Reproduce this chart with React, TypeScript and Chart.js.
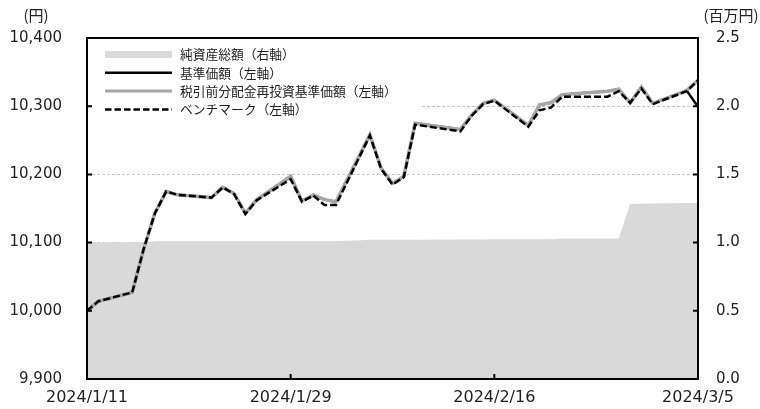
import React, { useEffect, useRef } from 'react';
import { Chart, registerables } from 'chart.js';

Chart.register(...registerables);

// ---- data ----
const dates = [
  '2024/1/11', '2024/1/12', '2024/1/15', '2024/1/16', '2024/1/17', '2024/1/18', '2024/1/19',
  '2024/1/22', '2024/1/23', '2024/1/24', '2024/1/25', '2024/1/26', '2024/1/29', '2024/1/30',
  '2024/1/31', '2024/2/1', '2024/2/2', '2024/2/5', '2024/2/6', '2024/2/7', '2024/2/8',
  '2024/2/9', '2024/2/13', '2024/2/14', '2024/2/15', '2024/2/16', '2024/2/19', '2024/2/20',
  '2024/2/21', '2024/2/22', '2024/2/26', '2024/2/27', '2024/2/28', '2024/2/29', '2024/3/1',
  '2024/3/4', '2024/3/5',
];

// 基準価額（左軸）
const navValues = [
  10000, 10014, 10027, 10090, 10143, 10175, 10170,
  10166, 10181, 10172, 10143, 10163, 10197, 10161,
  10170, 10163, 10160, 10258, 10209, 10187, 10197,
  10275, 10266, 10287, 10304, 10309, 10272, 10302,
  10305, 10317, 10322, 10325, 10305, 10328, 10304,
  10323, 10299,
];

// 税引前分配金再投資基準価額（左軸）
const navReinvested = [
  10000, 10014, 10027, 10090, 10143, 10175, 10170,
  10166, 10181, 10172, 10143, 10163, 10197, 10161,
  10170, 10163, 10160, 10258, 10209, 10187, 10197,
  10275, 10266, 10287, 10304, 10309, 10272, 10302,
  10305, 10317, 10322, 10325, 10305, 10328, 10304,
  10323, 10338,
];

// ベンチマーク（左軸）
const benchmark = [
  10000, 10014, 10027, 10090, 10143, 10175, 10170,
  10166, 10181, 10171, 10142, 10162, 10193, 10160,
  10169, 10155, 10155, 10257, 10208, 10185, 10196,
  10273, 10263, 10286, 10303, 10308, 10270, 10294,
  10298, 10314, 10314, 10322, 10305, 10326, 10303,
  10322, 10338,
];

// 純資産総額（右軸, 百万円）
const netAssets = [
  1.0, 1.0, 1.005, 1.005, 1.01, 1.01, 1.01,
  1.01, 1.01, 1.01, 1.01, 1.01, 1.01, 1.01,
  1.01, 1.01, 1.01, 1.02, 1.02, 1.02, 1.02,
  1.02, 1.022, 1.022, 1.022, 1.025, 1.025, 1.025,
  1.025, 1.03, 1.03, 1.03, 1.283, 1.285, 1.287,
  1.29, 1.29,
];

const xTickLabels = ['2024/1/11', '2024/1/29', '2024/2/16', '2024/3/5'];
const leftTitle = '(円)';
const rightTitle = '(百万円)';
const legendLabels = [
  '純資産総額（右軸）',
  '基準価額（左軸）',
  '税引前分配金再投資基準価額（左軸）',
  'ベンチマーク（左軸）',
];

// ---- helpers ----
const dayOf = (s: string) => {
  const [y, m, d] = s.split('/').map(Number);
  return Math.round((Date.UTC(y, m - 1, d) - Date.UTC(2024, 0, 11)) / 86400000);
};
const toPoints = (arr: number[]) => dates.map((d, i) => ({ x: dayOf(d), y: arr[i] }));

const FAMILY = '"DejaVu Sans", Verdana, sans-serif';
const AXIS_FONT = { family: FAMILY, size: 15 };
const X_FONT = { family: FAMILY, size: 16 };
const TEXT_COLOR = '#222222';
const JP_FONT = '"Noto Sans CJK JP", "Noto Sans", sans-serif';

const COLORS = {
  area: '#d9d9d9',
  nav: '#000000',
  reinvest: '#a6a6a6',
  bench: '#000000',
};

const decorPlugin = {
  id: 'decor',
  beforeDatasetsDraw(chart: any) {
    const { ctx, chartArea } = chart;
    const { left, top } = chartArea;
    ctx.save();
    // legend background
    ctx.fillStyle = '#ffffff';
    ctx.fillRect(left + 1, top + 1, 420 - left, 84);
    const x0 = 105;
    const x1 = 172;
    const rows = [54.5, 72.8, 91.1, 109.4];
    ctx.fillStyle = COLORS.area;
    ctx.fillRect(x0, rows[0] - 3.5, x1 - x0, 7);
    ctx.lineCap = 'butt';
    ctx.strokeStyle = COLORS.nav;
    ctx.lineWidth = 2.5;
    ctx.beginPath();
    ctx.moveTo(x0, rows[1]);
    ctx.lineTo(x1, rows[1]);
    ctx.stroke();
    ctx.strokeStyle = COLORS.reinvest;
    ctx.lineWidth = 3;
    ctx.beginPath();
    ctx.moveTo(x0, rows[2]);
    ctx.lineTo(x1, rows[2]);
    ctx.stroke();
    ctx.strokeStyle = COLORS.bench;
    ctx.lineWidth = 2.5;
    ctx.setLineDash([6.5, 3]);
    ctx.beginPath();
    ctx.moveTo(x0, rows[3]);
    ctx.lineTo(x1, rows[3]);
    ctx.stroke();
    ctx.setLineDash([]);
    ctx.fillStyle = TEXT_COLOR;
    ctx.font = `12.75px ${JP_FONT}`;
    ctx.textAlign = 'left';
    ctx.textBaseline = 'middle';
    legendLabels.forEach((t, i) => ctx.fillText(t, 180, rows[i]));
    ctx.restore();
  },
  afterDatasetsDraw(chart: any) {
    const { ctx, chartArea, scales } = chart;
    const { left, right, top, bottom } = chartArea;
    ctx.save();
    ctx.strokeStyle = '#000000';
    ctx.lineWidth = 2;
    ctx.strokeRect(left, top, right - left, bottom - top);
    const tl = 5;
    ctx.beginPath();
    scales.y.ticks.forEach((t: any) => {
      if (t.value <= scales.y.min || t.value >= scales.y.max) return;
      const py = scales.y.getPixelForValue(t.value);
      ctx.moveTo(left, py);
      ctx.lineTo(left + tl, py);
    });
    scales.y2.ticks.forEach((t: any) => {
      if (t.value <= scales.y2.min || t.value >= scales.y2.max) return;
      const py = scales.y2.getPixelForValue(t.value);
      ctx.moveTo(right - tl, py);
      ctx.lineTo(right, py);
    });
    scales.x.ticks.forEach((t: any) => {
      if (t.value <= scales.x.min || t.value >= scales.x.max) return;
      const px = scales.x.getPixelForValue(t.value);
      ctx.moveTo(px, bottom - tl);
      ctx.lineTo(px, bottom);
    });
    ctx.stroke();
    ctx.fillStyle = TEXT_COLOR;
    ctx.font = `15px ${JP_FONT}`;
    ctx.textBaseline = 'middle';
    ctx.textAlign = 'center';
    ctx.fillText(leftTitle, 36, 15);
    ctx.fillText(rightTitle, 731, 15);
    ctx.restore();
  },
};

const fixVertical = (width: number) => (s: any) => {
  s.width = width;
  s.paddingTop = 0;
  s.paddingBottom = 0;
};

export default function App() {
  const ref = useRef<HTMLCanvasElement>(null);

  useEffect(() => {
    const canvas = ref.current;
    if (!canvas) return;
    const chart = new Chart(canvas, {
      type: 'line',
      data: {
        datasets: [
          {
            label: legendLabels[3],
            data: toPoints(benchmark),
            yAxisID: 'y',
            borderColor: COLORS.bench,
            borderWidth: 2.5,
            borderDash: [7, 3],
            pointRadius: 0,
            fill: false,
            tension: 0,
            order: 0,
          },
          {
            label: legendLabels[2],
            data: toPoints(navReinvested),
            yAxisID: 'y',
            borderColor: COLORS.reinvest,
            borderWidth: 3.5,
            pointRadius: 0,
            fill: false,
            tension: 0,
            order: 1,
          },
          {
            label: legendLabels[1],
            data: toPoints(navValues),
            yAxisID: 'y',
            borderColor: COLORS.nav,
            borderWidth: 2.5,
            pointRadius: 0,
            fill: false,
            tension: 0,
            order: 2,
          },
          {
            label: legendLabels[0],
            data: toPoints(netAssets),
            yAxisID: 'y2',
            borderWidth: 0,
            borderColor: COLORS.area,
            backgroundColor: COLORS.area,
            pointRadius: 0,
            fill: 'origin',
            tension: 0,
            order: 3,
          },
        ],
      },
      options: {
        responsive: false,
        maintainAspectRatio: false,
        devicePixelRatio: 1,
        animation: false,
        layout: { padding: { top: 38, left: 0, right: 0, bottom: 0 } },
        plugins: {
          legend: { display: false },
          tooltip: { enabled: false },
          title: { display: false },
        },
        scales: {
          x: {
            type: 'linear',
            min: 0,
            max: dayOf(dates[dates.length - 1]),
            grid: { display: false, drawTicks: false },
            border: { display: false },
            afterBuildTicks: (s: any) => {
              s.ticks = xTickLabels.map((l) => ({ value: dayOf(l) }));
            },
            afterFit: (s: any) => {
              s.height = 30;
            },
            ticks: {
              autoSkip: false,
              maxRotation: 0,
              padding: 9,
              color: TEXT_COLOR,
              font: X_FONT,
              callback: (v: any) => {
                const i = xTickLabels.findIndex((l) => dayOf(l) === Number(v));
                return i >= 0 ? xTickLabels[i] : '';
              },
            },
          },
          y: {
            position: 'left',
            min: 9900,
            max: 10400,
            afterFit: fixVertical(87),
            grid: {
              drawTicks: false,
              lineWidth: 1,
              color: (c: any) =>
                c.tick && (c.tick.value === 10400 || c.tick.value === 9900)
                  ? 'rgba(0,0,0,0)'
                  : '#c4c4c4',
            },
            border: { display: false, dash: [3, 2] },
            ticks: {
              stepSize: 100,
              padding: 25,
              color: TEXT_COLOR,
              font: AXIS_FONT,
              callback: (v: any) => Number(v).toLocaleString('en-US'),
            },
          },
          y2: {
            position: 'right',
            min: 0,
            max: 2.5,
            afterFit: fixVertical(62),
            grid: { display: false, drawTicks: false },
            border: { display: false },
            ticks: {
              stepSize: 0.5,
              padding: 18,
              color: TEXT_COLOR,
              font: AXIS_FONT,
              callback: (v: any) => Number(v).toFixed(1),
            },
          },
        },
      },
      plugins: [decorPlugin],
    } as any);
    return () => chart.destroy();
  }, []);

  return (
    <div style={{ position: 'absolute', left: 0, top: 0, width: 760, height: 409, background: '#ffffff' }}>
      <canvas ref={ref} width={760} height={409} style={{ display: 'block', width: 760, height: 409 }} />
    </div>
  );
}
